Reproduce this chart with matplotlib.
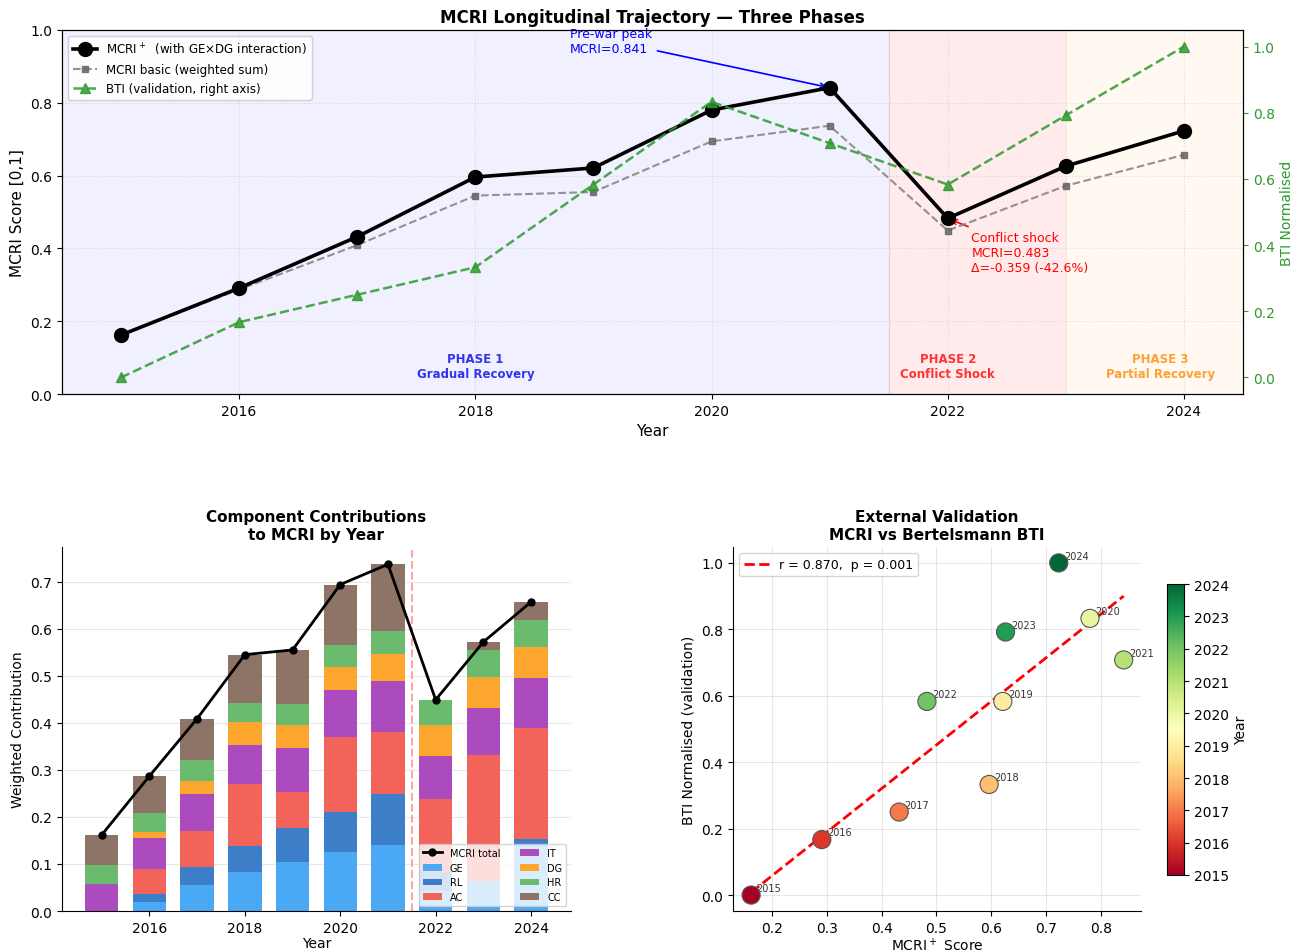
import matplotlib
matplotlib.use('Agg')
from matplotlib import pyplot as plt
import numpy as np

years = [2015, 2016, 2017, 2018, 2019, 2020, 2021, 2022, 2023, 2024]

mcri_plus = [0.162, 0.291, 0.432, 0.596, 0.621, 0.780, 0.8414, 0.4826, 0.626, 0.723]
mcri_basic = [0.162, 0.287, 0.409, 0.545, 0.555, 0.694, 0.737, 0.449, 0.572, 0.657]
bti_norm = [0.000, 0.167, 0.250, 0.333, 0.583, 0.833, 0.708, 0.583, 0.792, 1.000]

# weighted component contributions (stack order bottom -> top)
comp_names = ['GE', 'RL', 'AC', 'IT', 'DG', 'HR', 'CC']
ge = [0.000, 0.020, 0.055, 0.084, 0.104, 0.125, 0.140, 0.042, 0.064, 0.138]
rl = [0.000, 0.017, 0.038, 0.054, 0.072, 0.086, 0.109, 0.040, 0.000, 0.015]
ac = [0.000, 0.052, 0.078, 0.132, 0.078, 0.158, 0.131, 0.156, 0.267, 0.235]
it = [0.057, 0.066, 0.077, 0.083, 0.092, 0.100, 0.108, 0.092, 0.100, 0.108]
dg = [0.000, 0.014, 0.029, 0.049, 0.050, 0.050, 0.058, 0.065, 0.067, 0.065]
hr = [0.041, 0.040, 0.043, 0.041, 0.044, 0.047, 0.050, 0.054, 0.056, 0.058]
cc = [0.064, 0.078, 0.089, 0.102, 0.115, 0.128, 0.141, 0.000, 0.018, 0.038]
comp_colors = ['#4aa8f5', '#3d7ec9', '#f2645a', '#ab4bbd', '#fca62e', '#6abb6d', '#8d7466']

phase_labels = ['PHASE 1\nGradual Recovery', 'PHASE 2\nConflict Shock', 'PHASE 3\nPartial Recovery']

x = np.array(years)

fig = plt.figure(figsize=(12.96, 9.53), dpi=100)

# ---------------- top: trajectory ----------------
ax1 = fig.add_axes([0.0478, 0.5855, 0.9113, 0.382])
ax1.axvspan(2014.5, 2021.5, color='#0000ff', alpha=0.06, lw=0)
ax1.axvspan(2021.5, 2023.0, color='#ff0000', alpha=0.08, lw=0)
ax1.axvspan(2023.0, 2024.5, color='#ff9900', alpha=0.05, lw=0)
ax1.axvline(2021.5, color='#e8b0c0', lw=0.8, alpha=0.6)
ax1.axvline(2023.0, color='#ffd8c0', lw=0.8, alpha=0.6)

l1, = ax1.plot(x, mcri_plus, '-o', color='black', lw=2.6, ms=10,
               label='MCRI$^+$  (with GE×DG interaction)', zorder=5)
l2, = ax1.plot(x, mcri_basic, '--s', color='gray', lw=1.5, ms=5, alpha=0.85,
               markerfacecolor='#666666', markeredgecolor='#666666',
               label='MCRI basic (weighted sum)', zorder=4)
ax1.set_xlim(2014.5, 2024.5)
ax1.set_ylim(0, 1.0)
ax1.set_xticks([2016, 2018, 2020, 2022, 2024])
ax1.set_ylabel('MCRI Score [0,1]', fontsize=11)
ax1.set_xlabel('Year', fontsize=11)
ax1.grid(True, linestyle=':', alpha=0.4)
ax1.tick_params(labelsize=10)
ax1.set_title('MCRI Longitudinal Trajectory — Three Phases', fontsize=12,
              fontweight='bold', pad=6)

ax1r = ax1.twinx()
l3, = ax1r.plot(x, bti_norm, '--^', color='#2e9a2e', lw=1.8, ms=7, alpha=0.85,
                label='BTI (validation, right axis)')
ax1r.set_ylim(-0.05, 1.05)
ax1r.set_ylabel('BTI Normalised', color='#2e9a2e', fontsize=10)
ax1r.tick_params(axis='y', colors='#2e9a2e', labelsize=10)

ax1.text(2018.0, 0.077, phase_labels[0], ha='center', va='center', fontsize=8.5,
         fontweight='bold', color='#3333ee')
ax1.text(2022.0, 0.077, phase_labels[1], ha='center', va='center', fontsize=8.5,
         fontweight='bold', color='#ff3333')
ax1.text(2023.8, 0.077, phase_labels[2], ha='center', va='center', fontsize=8.5,
         fontweight='bold', color='#ffa033')

i_peak = years.index(2021)
i_shock = years.index(2022)
drop = mcri_plus[i_shock] - mcri_plus[i_peak]
ax1.annotate(f'Pre-war peak\nMCRI={mcri_plus[i_peak]:.3f}',
             xy=(2021, mcri_plus[i_peak]), xytext=(2018.8, 0.97),
             ha='left', va='center', fontsize=9, color='blue',
             arrowprops=dict(arrowstyle='->', color='blue', lw=1.2))
ax1.annotate(f'Conflict shock\nMCRI={mcri_plus[i_shock]:.3f}\n'
             f'Δ={drop:.3f} ({drop / mcri_plus[i_peak] * 100:.1f}%)',
             xy=(2022, mcri_plus[i_shock]), xytext=(2022.2, 0.39),
             ha='left', va='center', fontsize=9, color='red',
             arrowprops=dict(arrowstyle='->', color='red', lw=1.2))

ax1.legend(handles=[l1, l2, l3], loc='upper left', fontsize=8.6, framealpha=0.9)

# ---------------- bottom left: stacked components ----------------
ax2 = fig.add_axes([0.0478, 0.043, 0.3927, 0.382])
bottom = np.zeros(len(years))
for name, vals, col in zip(comp_names, [ge, rl, ac, it, dg, hr, cc], comp_colors):
    ax2.bar(x, vals, width=0.7, bottom=bottom, color=col, label=name)
    bottom += np.array(vals)
ax2.plot(x, mcri_basic, '-o', color='black', lw=2, ms=5, label='MCRI total', zorder=5)
ax2.axvline(2021.5, color='#ff8080', ls='--', lw=1.5, alpha=0.7)
ax2.set_title('Component Contributions\nto MCRI by Year', fontsize=11, fontweight='bold')
ax2.set_xlabel('Year', fontsize=10, labelpad=1)
ax2.set_ylabel('Weighted Contribution', fontsize=10)
ax2.set_xticks([2016, 2018, 2020, 2022, 2024])
ax2.tick_params(labelsize=10)
ax2.grid(True, axis='y', alpha=0.3)
ax2.set_axisbelow(True)
ax2.spines['top'].set_visible(False)
ax2.spines['right'].set_visible(False)
ax2.legend(loc='lower right', ncol=2, fontsize=7, framealpha=0.8)

# ---------------- bottom right: validation scatter ----------------
ax3 = fig.add_axes([0.5656, 0.043, 0.3148, 0.382])
slope, intercept = np.polyfit(mcri_plus, bti_norm, 1)
xs = np.array([min(mcri_plus), max(mcri_plus)])
ax3.plot(xs, slope * xs + intercept, 'r--', lw=2, label='r = 0.870,  p = 0.001')
sc = ax3.scatter(mcri_plus, bti_norm, c=years, cmap='RdYlGn', vmin=2015, vmax=2024,
                 s=170, edgecolors='#555555', linewidths=0.8, zorder=5)
for xv, yv, yr in zip(mcri_plus, bti_norm, years):
    ax3.annotate(str(yr), (xv, yv), xytext=(4, 3), textcoords='offset points',
                 fontsize=7, color='#333333')
ax3.set_xlim(0.129, 0.873)
ax3.set_ylim(-0.048, 1.048)
ax3.set_title('External Validation\nMCRI vs Bertelsmann BTI', fontsize=11, fontweight='bold')
ax3.set_xlabel('MCRI$^+$ Score', fontsize=10, labelpad=1)
ax3.set_ylabel('BTI Normalised (validation)', fontsize=10)
ax3.tick_params(labelsize=10)
ax3.grid(True, alpha=0.3)
ax3.spines['top'].set_visible(False)
ax3.spines['right'].set_visible(False)
ax3.legend(loc='upper left', fontsize=9)

cax = fig.add_axes([0.9005, 0.0808, 0.0131, 0.3053])
cbar = fig.colorbar(sc, cax=cax)
cbar.set_ticks(years)
cbar.set_label('Year', fontsize=10)
cbar.ax.tick_params(labelsize=10)

plt.savefig('out.png', dpi=100)
